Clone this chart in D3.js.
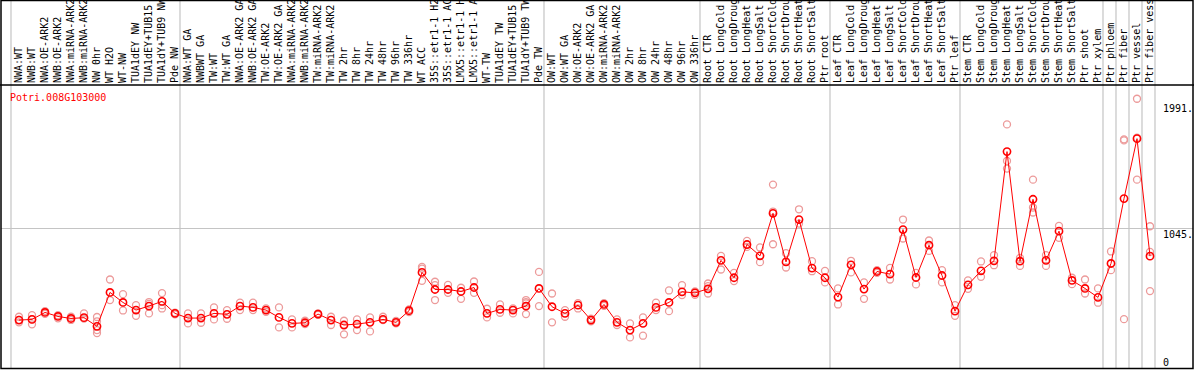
<!DOCTYPE html>
<html><head><meta charset="utf-8">
<script src="https://cdn.jsdelivr.net/npm/d3@7"></script>
<style>body{margin:0;background:#fff}svg{display:block}text{font-family:"DejaVu Sans Mono",monospace;font-size:10px}</style>
</head><body><svg id="c" width="1194" height="370"></svg>
<script>
const categories = ["NWA:WT","NWB:WT","NWA:OE-ARK2","NWB:OE-ARK2","NWA:miRNA-ARK2","NWB:miRNA-ARK2","NW 0hr","WT H2O","WT-NW","TUA1dEY NW","TUA1dEY+TUB15 NW","TUA1dY+TUB9 NW","Pde NW",
"NWA:WT GA","NWBWT GA","TW:WT","TW:WT GA","NWA:OE-ARK2 GA","NWB:OE-ARK2 GA","TW:OE-ARK2","TW:OE-ARK2 GA","NWA:miRNA-ARK2","NWB:miRNA-ARK2","TW:miRNA-ARK2","TW:miRNA-ARK2","TW 2hr","TW 8hr","TW 24hr","TW 48hr","TW 96hr","TW 336hr","WT ACC","35S::etr1-1 H2O","35S::etr1-1 ACC","LMX5::etr1-1 H2O","LMX5::etr1-1 ACC","WT-TW","TUA1dEY TW","TUA1dEY+TUB15 TW","TUA1dY+TUB9 TW","Pde TW",
"OW:WT","OW:WT GA","OW:OE-ARK2","OW:OE-ARK2 GA","OW:miRNA-ARK2","OW:miRNA-ARK2","OW 2hr","OW 8hr","OW 24hr","OW 48hr","OW 96hr","OW 336hr",
"Root CTR","Root LongCold","Root LongDrought","Root LongHeat","Root LongSalt","Root ShortCold","Root ShortDrought","Root ShortHeat","Root ShortSalt","Ptr root",
"Leaf CTR","Leaf LongCold","Leaf LongDrought","Leaf LongHeat","Leaf LongSalt","Leaf ShortCold","Leaf ShortDrought","Leaf ShortHeat","Leaf ShortSalt","Ptr leaf",
"Stem CTR","Stem LongCold","Stem LongDrought","Stem LongHeat","Stem LongSalt","Stem ShortCold","Stem ShortDrought","Stem ShortHeat","Stem ShortSalt","Ptr shoot","Ptr xylem",
"Ptr phloem","Ptr fiber","Ptr vessel","Ptr fiber vessel"];
const groupSizes = [13,28,12,10,10,11,1,1,1,1];
const means = [359,364,416,386,371,377,312,566,491,434,464,499,409,
374,374,409,402,464,454,434,379,334,339,404,359,322,329,342,364,342,429,716,588,588,573,603,409,439,434,464,596,
459,409,471,359,476,342,284,334,454,491,571,563,
593,806,676,925,840,1159,795,1112,748,676,
531,773,591,723,703,1037,678,920,693,426,
623,728,803,1621,800,1264,806,1025,656,596,529,
783,1269,1718,838];
const replicates = [[384,342,360],[396,327,364],[425,405],[395,372],[384,360],[409,370],[382,350,284,262],[663,509],[553,431],[471,391],[494,409,480],[561,471,446],[414,402],
[409,334],[409,339],[454,364],[434,369],[489,434],[489,434],[446,421],[454,304],[364,304],[354,329],[409,399],[384,322],[354,252],[364,284],[379,274],[384,359],[352,334],[439,419],[758,653,745],[646,509,621],[623,563],[601,518],[648,563],[444,379],[476,414],[446,409],[509,484,404,494],[720,464],
[558,342],[434,384],[486,446],[369,349],[486,466],[364,322],[334,229],[379,242],[489,434],[581,426],[621,546],[573,548],
[633,558,613],[840,738],[713,651],[952,907],[903,793],[1374,1172,927],[860,753],[1189,1082],[800,725],[728,641],
[596,476],[803,716],[641,518],[733,713],[750,663],[1112,970],[713,626],[955,877],[733,641],[471,391],
[656,593],[798,683],[845,770],[1825,1551,1494],[825,765],[1411,1202,1165],[845,765],[1064,975],[676,628],[663,558],[596,489],
[873,733],[1713,1705,366],[2017,1725,1411],[1062,870,576]];
const yTicks = [0,1045,1991];
const yTickLabels = ["0","1045.","1991."];
const gridValues = [1045];
const title = "Potri.008G103000";

const W=1194,H=370, pL=11, pR=1155, pT=85, pB=368;
const svg=d3.select("#c");
const x=d3.scaleBand().domain(d3.range(categories.length)).range([pL,pR]);
const px=i=>x(i)+x.bandwidth()/2+1.5;
const y=d3.scaleLinear().domain([0,2120]).range([pB,pT]);

// group separators
let acc=0; const seps=[pL];
groupSizes.forEach(s=>{acc+=s; seps.push(x(acc-1)+x.bandwidth());});
svg.append("g").selectAll("line").data(seps).join("line")
 .attr("x1",d=>d).attr("x2",d=>d).attr("y1",0).attr("y2",pB)
 .attr("stroke","#c4c4c4").attr("stroke-width",1.2);
svg.append("g").selectAll("line").data(gridValues).join("line")
 .attr("x1",1).attr("x2",W-1).attr("y1",d=>y(d)).attr("y2",d=>y(d))
 .attr("stroke","#c4c4c4").attr("stroke-width",1.2);

// header labels
svg.append("g").selectAll("text").data(categories).join("text")
 .attr("transform",(d,i)=>`translate(${x(i)+x.bandwidth()/2+4.5},${pT-2}) rotate(-90)`)
 .attr("fill","#000").text(d=>d);

// frame
svg.append("line").attr("x1",0).attr("x2",W).attr("y1",pT).attr("y2",pT).attr("stroke","#000").attr("stroke-width",1.5);
svg.append("rect").attr("x",1).attr("y",0.5).attr("width",W-2).attr("height",pB).attr("fill","none").attr("stroke","#000").attr("stroke-width",1.5);

// right axis labels
svg.append("g").selectAll("text").data(yTicks).join("text")
 .attr("x",1163).attr("y",(d,i)=>Math.min(y(d)+9.5,366)).text((d,i)=>yTickLabels[i]).attr("fill","#000");

svg.append("text").attr("x",10).attr("y",101).attr("fill","#f00").text(title);

// replicates
const repPts=[]; replicates.forEach((r,i)=>r.forEach(v=>repPts.push([i,v])));
svg.append("g").selectAll("circle").data(repPts).join("circle")
 .attr("cx",d=>px(d[0])).attr("cy",d=>y(d[1])).attr("r",3.5)
 .attr("fill","none").attr("stroke","#ec9a9a").attr("stroke-width",1.3);
// mean line
svg.append("path").datum(means).attr("fill","none").attr("stroke","#f00").attr("stroke-width",1)
 .attr("d",d3.line().x((d,i)=>px(i)).y(d=>y(d)));
svg.append("g").selectAll("circle").data(means).join("circle")
 .attr("cx",(d,i)=>px(i)).attr("cy",d=>y(d)).attr("r",3.6)
 .attr("fill","none").attr("stroke","#f00").attr("stroke-width",1.6);
</script></body></html>
